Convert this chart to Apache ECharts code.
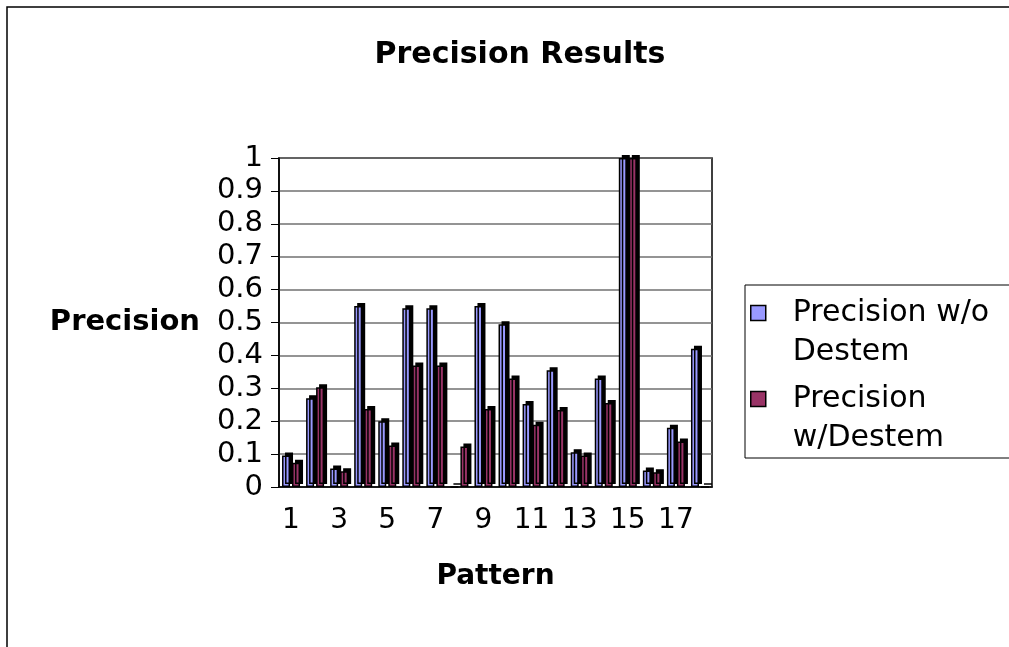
<!DOCTYPE html>
<html>
<head>
<meta charset="utf-8">
<title>Precision Results</title>
<script src="https://cdn.jsdelivr.net/npm/echarts@6/dist/echarts.min.js"></script>
<style>
  html, body { margin: 0; padding: 0; background: #fff; }
  #chart { width: 1009px; height: 647px; }
</style>
</head>
<body>
<div id="chart"></div>
<script>
// pattern numbers 1..18
var patterns = ['1', '2', '3', '4', '5', '6', '7', '8', '9', '10', '11', '12', '13', '14', '15', '16', '17', '18']
var withoutDestem = [0.096, 0.27, 0.056, 0.55, 0.2, 0.543, 0.543, 0, 0.55, 0.495, 0.252, 0.355, 0.106, 0.33, 1, 0.05, 0.18, 0.42]
var withDestem = [0.074, 0.303, 0.048, 0.237, 0.126, 0.369, 0.369, 0.123, 0.237, 0.33, 0.189, 0.234, 0.096, 0.255, 1, 0.045, 0.138, 0]
var seriesNames = ['Precision w/o Destem', 'Precision w/Destem']
var legendLabels = ['Precision w/o\nDestem', 'Precision\nw/Destem']

var font = 'DejaVu Sans'

// square on top-left, the lone moveTo just stretches the icon box so the
// square sits on the first text line
var legendIcon = 'path://M0,0 L15,0 L15,15 L0,15 Z M37,54'

var chart = echarts.init(document.getElementById('chart'))

function barSeries(name, data, color) {
  return {
    name: name,
    type: 'bar',
    data: data,
    barWidth: 8,
    barGap: '25%',
    itemStyle: {
      color: color,
      borderColor: '#000',
      borderWidth: 1.5,
      // fake excel 3d depth
      shadowColor: '#000',
      shadowBlur: 0,
      shadowOffsetX: 3,
      shadowOffsetY: -3,
    },
    emphasis: { disabled: true },
  }
}

chart.setOption({
  animation: false,
  textStyle: { fontFamily: font },
  title: {
    text: 'Precision Results',
    left: 515,
    textAlign: 'center',
    top: 35,
    textStyle: { fontFamily: font, fontSize: 30, fontWeight: 'bold', color: '#000' },
  },
  legend: {
    orient: 'vertical',
    left: 745,
    top: 285,
    padding: [8.5, 40, 0.5, 5],
    itemGap: 8,
    itemWidth: 37,
    itemHeight: 54,
    icon: legendIcon,
    borderColor: '#000',
    borderWidth: 1,
    selectedMode: false,
    itemStyle: {
      borderColor: '#000',
      borderWidth: 1.5,
      shadowBlur: 0,
      shadowOffsetX: 0,
      shadowOffsetY: 0,
      shadowColor: 'rgba(0,0,0,0)',
    },
    formatter: function (name) {
      return legendLabels[seriesNames.indexOf(name)]
    },
    textStyle: { fontFamily: font, fontSize: 30, lineHeight: 39, color: '#000' },
    data: seriesNames,
  },
  grid: {
    left: 279,
    right: 297,
    top: 158,
    bottom: 160,
    show: true,
    borderColor: '#000',
    borderWidth: 1.5,
    backgroundColor: 'transparent',
  },
  xAxis: {
    type: 'category',
    data: patterns,
    name: 'Pattern',
    nameLocation: 'middle',
    nameGap: 76,
    nameTextStyle: { fontFamily: font, fontSize: 28, fontWeight: 'bold', color: '#000' },
    axisLine: { lineStyle: { color: '#000', width: 1.5 } },
    axisTick: { interval: 0, length: 7, lineStyle: { color: '#000' } },
    axisLabel: { interval: 1, margin: 20, fontFamily: font, fontSize: 28, color: '#000' },
  },
  yAxis: {
    type: 'value',
    min: 0,
    max: 1,
    interval: 0.1,
    name: 'Precision',
    nameLocation: 'middle',
    nameRotate: 0,
    nameGap: 79,
    nameTextStyle: { fontFamily: font, fontSize: 29, fontWeight: 'bold', color: '#000', align: 'right' },
    axisLine: { show: true, lineStyle: { color: '#000', width: 1.5 } },
    axisTick: { show: true, length: 8, lineStyle: { color: '#000' } },
    axisLabel: { margin: 16, fontFamily: font, fontSize: 29, color: '#000' },
    splitLine: { lineStyle: { color: '#707070', width: 1.5 } },
  },
  graphic: [
    {
      type: 'rect',
      shape: { x: 7, y: 7, width: 1100, height: 700 },
      style: { fill: 'none', stroke: '#000', lineWidth: 1.5 },
      silent: true,
    },
  ],
  series: [
    barSeries(seriesNames[0], withoutDestem, '#9999FF'),
    barSeries(seriesNames[1], withDestem, '#993366'),
  ],
})
</script>
</body>
</html>
